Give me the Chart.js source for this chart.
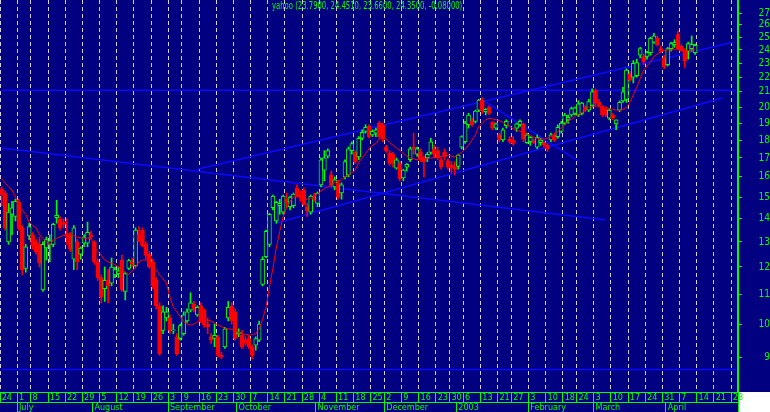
<!DOCTYPE html>
<html>
<head>
<meta charset="utf-8">
<title>yahoo</title>
<script src="https://cdn.jsdelivr.net/npm/chart.js@4.4.1/dist/chart.umd.min.js"></script>
<style>
  html, body { margin: 0; padding: 0; background: #ffffff; }
  #wrap { position: relative; width: 770px; height: 412px; }
  #title {
    position: absolute; left: 272px; top: 0px;
    font: 11px 'Liberation Sans Narrow', 'DejaVu Sans Condensed', sans-serif;
    line-height: 12px; color: #00ff00; white-space: nowrap;
    transform-origin: 0 0;
  }
</style>
</head>
<body>
<div id="wrap">
  <canvas id="chart"></canvas>
  <div id="title">yahoo (23.7900, 24.4510, 23.6600, 24.3500, -0.08000)</div>
</div>
<script>
// trading calendar
const firstDay = "2002-06-24";
const lastDay = "2003-04-29";
const holidays = ["2002-07-04", "2002-09-02", "2002-11-28", "2002-12-25", "2003-01-01", "2003-01-20", "2003-02-17"];
// month row captions by month number (january shows the year)
const monthNames = ["2003", "February", "March", "April", "May", "June", "July", "August", "September", "October", "November", "December"];

// daily prices
const opens = [
  15.4, 15.2, 13.0, 14.2, 14.1, 14.75, 13.6, 11.95, 13.25, 13.3,
  13.0, 12.9, 11.15, 12.75, 12.9, 12.9, 14.05, 14.0, 13.85, 13.35,
  13.3, 12.3, 13.0, 12.5, 12.95, 12.95, 13.3, 13.0, 12.2, 11.6,
  11.2, 11.5, 11.4, 11.7, 11.75, 12.27, 11.1, 11.95, 12.2, 12.05,
  13.3, 13.5, 12.9, 12.5, 12.2, 11.5, 10.6, 9.8, 10.2, 10.2,
  9.78, 9.6, 9.55, 9.7, 10.1, 10.45, 10.65, 10.3, 10.6, 10.45,
  10.0, 9.6, 9.55, 9.6, 9.05, 9.3, 10.2, 10.6, 10.4, 9.7,
  9.65, 9.5, 9.55, 9.3, 9.35, 9.5, 11.35, 12.4, 12.9, 14.5,
  13.9, 14.6, 14.3, 14.9, 14.55, 14.6, 15.45, 15.1, 15.35, 14.55,
  14.3, 15.0, 14.7, 15.6, 16.35, 17.1, 16.1, 15.5, 15.7, 15.2,
  16.0, 16.1, 17.4, 17.3, 17.05, 18.1, 18.5, 18.8, 18.3, 18.4,
  19.0, 18.9, 17.6, 17.25, 17.2, 16.45, 16.7, 15.95, 16.5, 16.9,
  17.6, 17.2, 17.3, 17.0, 17.0, 17.3, 17.5, 17.4, 16.9, 17.3,
  16.85, 16.6, 16.5, 16.55, 17.6, 17.9, 18.9, 19.1, 19.1, 19.8,
  20.45, 19.7, 20.0, 19.05, 18.7, 18.3, 18.0, 18.85, 18.05, 18.0,
  18.7, 18.9, 18.95, 17.85, 17.9, 17.95, 17.6, 17.85, 17.85, 17.7,
  18.0, 18.3, 18.2, 18.5, 19.0, 19.2, 19.5, 19.6, 19.5, 19.6,
  20.0, 19.8, 20.1, 21.1, 20.3, 20.0, 19.9, 19.3, 19.5, 18.95,
  19.8, 20.4, 20.5, 22.2, 22.0, 22.1, 23.6, 23.5, 23.5, 23.8,
  24.6, 24.9, 24.1, 23.4, 22.9, 24.1, 24.4, 25.2, 24.3, 24.0,
  23.9, 24.1, 23.79
];
const highs = [
  15.5, 15.3, 14.7, 14.8, 14.9, 14.9, 13.7, 12.9, 13.8, 13.4,
  13.1, 13.2, 13.0, 13.2, 13.3, 13.8, 14.85, 14.1, 14.0, 14.0,
  13.4, 13.7, 13.1, 12.8, 13.3, 13.85, 13.45, 13.05, 12.3, 11.7,
  12.0, 11.9, 12.35, 12.0, 12.0, 12.47, 11.8, 12.3, 12.35, 13.6,
  13.65, 13.6, 13.0, 12.6, 12.3, 11.6, 10.7, 10.6, 10.55, 10.3,
  10.0, 9.7, 10.0, 10.4, 10.5, 11.05, 10.75, 10.6, 10.7, 10.5,
  10.2, 9.7, 10.0, 9.65, 9.15, 9.9, 10.75, 10.7, 10.5, 9.85,
  9.8, 9.6, 9.65, 9.35, 9.6, 10.1, 12.4, 13.5, 14.25, 15.1,
  14.8, 14.9, 15.1, 15.2, 15.05, 15.2, 15.6, 15.3, 15.45, 14.7,
  15.1, 15.2, 15.25, 17.0, 17.4, 17.5, 16.3, 16.0, 15.8, 15.7,
  16.9, 17.6, 17.9, 17.4, 18.2, 18.6, 18.9, 18.9, 18.6, 18.7,
  19.1, 19.0, 17.7, 17.4, 17.3, 17.0, 16.8, 16.4, 16.7, 17.6,
  18.4, 17.6, 17.5, 17.1, 17.3, 18.1, 17.7, 17.6, 17.0, 17.5,
  16.95, 16.8, 16.8, 17.2, 18.25, 19.1, 19.6, 19.3, 19.8, 20.5,
  20.6, 19.9, 20.1, 19.1, 19.0, 18.4, 18.7, 19.2, 18.2, 18.2,
  19.0, 19.2, 19.0, 18.4, 18.2, 18.05, 18.3, 18.1, 17.9, 17.8,
  18.4, 18.4, 18.9, 19.1, 19.6, 19.5, 20.0, 20.0, 20.4, 20.3,
  20.1, 20.5, 21.2, 21.2, 20.5, 20.1, 20.0, 19.9, 19.6, 19.2,
  20.4, 21.3, 22.6, 22.4, 23.2, 23.3, 24.2, 23.7, 23.9, 25.0,
  25.3, 25.1, 24.3, 23.6, 24.2, 24.6, 24.8, 25.5, 24.4, 24.1,
  24.6, 25.1, 24.451
];
const lows = [
  14.6, 13.5, 12.9, 13.3, 13.9, 13.5, 11.7, 11.8, 13.1, 12.7,
  12.5, 12.0, 11.1, 12.27, 12.2, 12.8, 13.8, 13.5, 13.6, 12.9,
  12.6, 11.9, 11.9, 12.3, 12.8, 12.8, 13.1, 12.1, 11.5, 10.7,
  10.75, 10.7, 11.3, 11.6, 11.6, 11.1, 10.8, 11.9, 12.0, 12.0,
  13.0, 12.8, 12.3, 11.95, 11.2, 10.5, 9.05, 9.7, 10.1, 9.7,
  9.7, 9.05, 9.5, 9.65, 10.05, 10.4, 10.4, 10.25, 10.05, 9.9,
  9.7, 9.4, 9.3, 9.0, 8.95, 9.25, 10.1, 10.0, 9.5, 9.6,
  9.25, 9.35, 9.25, 8.95, 9.2, 9.45, 11.3, 12.35, 12.8, 14.4,
  13.8, 14.2, 14.2, 14.5, 14.4, 14.5, 15.0, 14.8, 14.6, 14.1,
  14.2, 14.8, 14.55, 15.5, 15.8, 17.0, 15.5, 15.35, 14.9, 14.9,
  15.9, 16.0, 17.2, 16.7, 16.9, 18.0, 18.4, 18.1, 18.2, 18.2,
  18.1, 17.9, 17.3, 16.6, 16.5, 16.4, 15.8, 15.8, 16.3, 16.8,
  17.2, 17.1, 16.8, 16.0, 16.8, 17.2, 17.0, 16.9, 16.4, 16.9,
  16.4, 16.2, 16.1, 16.4, 17.5, 17.8, 18.7, 18.8, 19.0, 19.7,
  19.6, 19.5, 19.5, 18.6, 18.6, 17.9, 17.9, 18.7, 17.8, 17.7,
  18.5, 18.8, 17.9, 17.8, 17.7, 17.8, 17.5, 17.7, 17.6, 17.35,
  17.9, 17.9, 18.1, 18.4, 18.9, 19.0, 19.4, 19.5, 19.4, 19.5,
  19.7, 19.7, 20.0, 20.1, 20.0, 19.4, 19.4, 19.2, 19.2, 18.6,
  19.7, 20.3, 20.3, 21.7, 21.6, 22.0, 23.4, 22.9, 23.3, 23.6,
  24.5, 24.3, 23.8, 22.6, 22.8, 23.9, 24.2, 24.0, 23.9, 22.7,
  23.3, 23.9, 23.66
];
const closes = [
  15.1, 13.6, 14.3, 14.5, 14.8, 13.6, 11.9, 12.8, 13.65, 12.85,
  12.6, 12.15, 12.9, 13.1, 13.05, 13.75, 14.15, 13.6, 13.75, 13.2,
  12.7, 13.6, 12.2, 12.75, 13.2, 13.4, 13.2, 12.2, 11.6, 10.9,
  11.5, 11.3, 12.0, 11.9, 11.85, 11.15, 11.75, 12.25, 12.1, 13.5,
  13.05, 12.85, 12.45, 12.0, 11.3, 10.6, 9.1, 10.4, 10.4, 9.8,
  9.82, 9.1, 9.95, 10.3, 10.4, 10.7, 10.5, 10.55, 10.1, 9.97,
  9.9, 9.5, 9.65, 9.05, 9.0, 9.85, 10.55, 10.1, 9.55, 9.75,
  9.3, 9.4, 9.3, 9.05, 9.55, 10.0, 12.3, 13.45, 14.2, 15.05,
  14.75, 14.7, 15.05, 14.75, 15.0, 15.15, 15.05, 15.0, 14.65, 14.35,
  15.05, 14.9, 15.2, 16.9, 17.0, 17.4, 15.6, 15.85, 15.0, 15.6,
  16.8, 17.5, 17.8, 16.8, 18.1, 18.45, 18.75, 18.2, 18.5, 18.6,
  18.2, 18.05, 17.4, 16.7, 16.7, 16.9, 15.9, 16.35, 16.65, 17.5,
  17.5, 17.5, 16.9, 16.8, 17.2, 17.9, 17.2, 17.0, 16.5, 17.05,
  16.5, 16.45, 16.4, 17.15, 18.2, 19.0, 19.5, 18.9, 19.75, 20.45,
  19.75, 19.85, 19.6, 18.7, 18.95, 18.0, 18.6, 19.1, 17.9, 17.8,
  18.95, 19.1, 18.05, 18.3, 18.15, 17.85, 18.15, 18.0, 17.7, 17.5,
  18.3, 18.0, 18.75, 19.0, 19.5, 19.35, 19.9, 19.95, 20.2, 20.25,
  19.8, 20.35, 21.0, 20.25, 20.1, 19.5, 19.5, 19.8, 19.3, 19.2,
  20.3, 21.0, 22.5, 21.8, 23.0, 23.05, 24.1, 23.1, 23.8, 24.9,
  25.1, 24.4, 23.95, 22.75, 24.1, 24.5, 24.6, 24.1, 23.9, 23.2,
  24.5, 24.43, 24.35
];
// red average line
const movingAvg = [
  15.9, 15.7, 15.5, 15.35, 15.0, 14.6, 14.4, 14.2, 13.85, 13.7,
  13.6, 13.3, 13.15, 13.0, 12.87, 13.08, 13.15, 13.22, 13.28, 13.3,
  13.3, 13.25, 13.2, 13.17, 13.15, 13.15, 13.15, 12.8, 12.6, 12.47,
  12.27, 12.2, 12.15, 12.08, 12.0, 11.9, 11.8, 11.72, 11.85, 12.0,
  12.2, 12.27, 12.27, 12.2, 12.05, 11.9, 11.7, 11.55, 11.4, 10.9,
  10.55, 10.4, 10.25, 10.08, 10.0, 9.97, 10.0, 10.06, 10.1, 10.15,
  10.12, 10.1, 10.03, 9.97, 9.92, 9.87, 9.85, 9.83, 9.78, 9.74,
  9.7, 9.67, 9.65, 9.67, 9.7, 9.85, 10.15, 10.55, 11.25, 11.95,
  12.75, 13.45, 14.1, 14.5, 14.8, 15.0, 15.05, 14.95, 14.9, 14.9,
  14.95, 15.0, 15.15, 15.3, 15.4, 15.5, 15.6, 15.72, 15.8, 15.85,
  16.0, 16.1, 16.2, 16.35, 16.75, 17.0, 17.25, 17.5, 17.7, 17.8,
  18.05, 18.1, 18.05, 17.85, 17.7, 17.55, 17.4, 17.25, 17.1, 17.0,
  16.95, 16.9, 16.9, 16.9, 16.95, 17.0, 17.02, 17.05, 17.08, 17.1,
  17.15, 17.1, 17.05, 17.15, 17.3, 17.5, 17.7, 18.0, 18.3, 18.8,
  19.0, 19.2, 19.3, 19.25, 19.2, 19.15, 19.05, 18.9, 18.8, 18.65,
  18.6, 18.5, 18.45, 18.35, 18.25, 18.15, 18.1, 18.05, 18.05, 18.1,
  18.2, 18.3, 18.5, 18.7, 18.9, 19.1, 19.25, 19.4, 19.55, 19.65,
  19.8, 20.0, 20.05, 20.05, 20.05, 20.02, 20.0, 19.9, 19.85, 19.8,
  19.8, 19.85, 19.95, 20.3, 20.8, 21.3, 21.9, 22.5, 22.8, 23.1,
  23.5, 23.7, 23.85, 23.95, 24.0, 24.0, 24.05, 24.1, 24.05, 23.95,
  23.95, 24.0, 24.0
];

// blue lines drawn on the chart (start day/price, end day/price)
const lineFromDay = ["2002-06-24", "2002-09-13", "2002-10-16", "2003-01-13", "2002-06-24", "2002-06-24"];
const lineFromPrice = [17.55, 16.4, 13.81, 20.46, 21.1, 8.65];
const lineToDay = ["2003-03-06", "2003-04-28", "2003-04-23", "2003-02-24", "2003-04-29", "2003-04-29"];
const lineToPrice = [13.94, 24.6, 20.59, 16.83, 21.1, 8.65];

const priceTicks = [9, 9.5, 10, 10.5, 11, 11.5, 12, 12.5, 13, 13.5, 14, 14.5, 15, 15.5, 16, 16.5, 17, 17.5,
  18, 18.5, 19, 19.5, 20, 20.5, 21, 21.5, 22, 22.5, 23, 23.5, 24, 24.5, 25, 25.5, 26, 26.5, 27];

const navy = "#000080";
const green = "#00ff00";
const red = "#ff0000";
const blue = "#0a0aff";
const dashGrey = "#d8d0d0";
const fontFamily = "'Liberation Sans Narrow', 'DejaVu Sans Condensed', sans-serif";

// build the list of trading days
const days = [];
for (let d = new Date(firstDay + "T00:00:00Z"); d <= new Date(lastDay + "T00:00:00Z"); d.setUTCDate(d.getUTCDate() + 1)) {
  const iso = d.toISOString().slice(0, 10);
  const dow = d.getUTCDay();
  if (dow === 0 || dow === 6 || holidays.includes(iso)) continue;
  days.push(iso);
}
const dayDate = (i) => new Date(days[i] + "T00:00:00Z");
const weekStart = days.map((s, i) => i === 0 || dayDate(i).getUTCDay() <= dayDate(i - 1).getUTCDay());
const monthStart = days.map((s, i) => i > 0 && dayDate(i).getUTCMonth() !== dayDate(i - 1).getUTCMonth());

const up = closes.map((c, i) => c >= opens[i]);

const trendSets = lineFromDay.map((from, k) => ({
  type: "line",
  data: [{ x: from, y: lineFromPrice[k] }, { x: lineToDay[k], y: lineToPrice[k] }],
  borderColor: blue,
  borderWidth: 1.5,
  pointRadius: 0,
  order: 4
}));

const background = {
  id: "background",
  beforeDraw(chart) {
    const { ctx, chartArea } = chart;
    ctx.save();
    ctx.fillStyle = navy;
    ctx.fillRect(0, 0, chart.width, chartArea.bottom);
    ctx.fillRect(0, chartArea.bottom, chartArea.right, chart.height - chartArea.bottom);
    ctx.restore();
  }
};

// axes keep no extra room for their end labels
const noPadding = (scale) => {
  scale.paddingTop = 0;
  scale.paddingBottom = 0;
  scale.paddingLeft = 0;
  scale.paddingRight = 0;
};

new Chart(document.getElementById("chart"), {
  type: "bar",
  data: {
    labels: days,
    datasets: [
      {
        type: "line",
        data: movingAvg,
        borderColor: red,
        borderWidth: 1,
        pointRadius: 0,
        order: 1
      },
      {
        data: opens.map((o, i) => [o, closes[i]]),
        backgroundColor: up.map(u => u ? navy : red),
        borderColor: up.map(u => u ? green : red),
        borderWidth: 1,
        borderSkipped: false,
        barThickness: 4,
        grouped: false,
        order: 2
      },
      {
        data: lows.map((l, i) => [l, highs[i]]),
        backgroundColor: up.map(u => u ? green : red),
        barThickness: 1,
        grouped: false,
        order: 3
      },
      ...trendSets
    ]
  },
  options: {
    responsive: true,
    maintainAspectRatio: false,
    animation: false,
    devicePixelRatio: 1,
    layout: { padding: 0 },
    plugins: {
      legend: { display: false },
      tooltip: { enabled: false },
      title: { display: false }
    },
    scales: {
      x: {
        type: "category",
        position: "bottom",
        weight: 0,
        offset: true,
        grid: {
          offset: true,
          drawOnChartArea: true,
          color: (ctx) => weekStart[ctx.index] ? dashGrey : "transparent",
          lineWidth: 1,
          drawTicks: true,
          tickLength: 10,
          tickColor: (ctx) => (ctx.index === undefined || weekStart[ctx.index]) ? green : "transparent"
        },
        border: { display: true, color: green, width: 1, dash: [4, 3] },
        ticks: {
          autoSkip: false,
          maxRotation: 0,
          minRotation: 0,
          align: "start",
          padding: -10,
          color: green,
          font: { family: fontFamily, size: 9 },
          callback: (value, index) => weekStart[index] ? String(dayDate(index).getUTCDate()) : ""
        },
        afterFit: (scale) => { scale.height = 10; noPadding(scale); }
      },
      xm: {
        type: "category",
        position: "bottom",
        weight: 1,
        offset: true,
        grid: {
          offset: true,
          drawOnChartArea: false,
          drawTicks: true,
          tickLength: 10,
          color: "transparent",
          tickColor: (ctx) => (ctx.index === undefined || monthStart[ctx.index]) ? green : "transparent"
        },
        border: { display: true, color: green, width: 1 },
        ticks: {
          autoSkip: false,
          maxRotation: 0,
          minRotation: 0,
          align: "start",
          padding: -10,
          color: green,
          font: { family: fontFamily, size: 9 },
          callback: (value, index) => monthStart[index] ? monthNames[dayDate(index).getUTCMonth()] : ""
        },
        afterFit: (scale) => { scale.height = 10; noPadding(scale); }
      },
      y: {
        type: "logarithmic",
        position: "right",
        min: 8.05,
        max: 28.15,
        grid: {
          drawOnChartArea: false,
          color: green,
          tickColor: green,
          tickLength: 4
        },
        border: { display: true, color: green, width: 2 },
        afterBuildTicks: (axis) => { axis.ticks = priceTicks.map(v => ({ value: v })); },
        ticks: {
          color: green,
          crossAlign: "far",
          padding: 15,
          font: { family: fontFamily, size: 10 },
          callback: (value) => Number.isInteger(value) ? String(value) : ""
        },
        afterFit: (scale) => { scale.width = 32; noPadding(scale); }
      }
    }
  },
  plugins: [background]
});

// squeeze the heading to the width it has in the picture
const title = document.getElementById("title");
title.style.transform = "scaleX(" + (190 / title.offsetWidth) + ")";
</script>
</body>
</html>
